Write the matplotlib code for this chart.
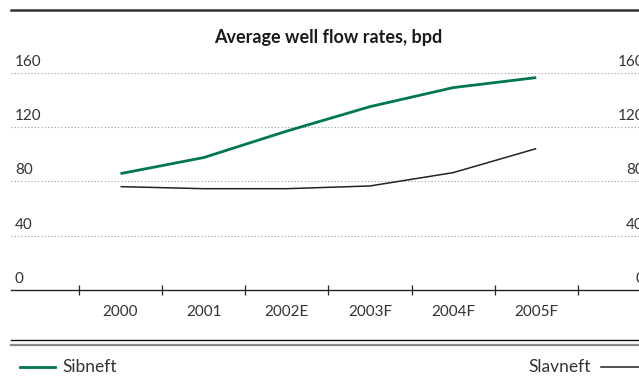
import numpy as np
import matplotlib.pyplot as plt
from matplotlib.lines import Line2D

plt.rcParams['font.family'] = ['Lato', 'DejaVu Sans']

years = ['2000', '2001', '2002E', '2003F', '2004F', '2005F']
sibneft = [85.7, 97.5, 117, 135, 149, 156.4]
slavneft = [76.1, 74.6, 74.6, 76.6, 86.4, 104.1]
y_ticks = [0, 40, 80, 120, 160]

W, H = 639, 386
fig = plt.figure(figsize=(W / 100, H / 100), dpi=100)

# plot area: y=0 at 290px, y=160 at 72.7px
left, right = 11 / W, 1.0
bottom, top = 1 - 290 / H, 1 - 72.7 / H
ax = fig.add_axes([left, bottom, right - left, top - bottom])

x = np.arange(len(years))
ax.plot(x, sibneft, color='#00784a', lw=2.0, solid_capstyle='butt')
ax.plot(x, slavneft, color='#222222', lw=1.1, solid_capstyle='butt')

ax.set_xlim(-1.317, 6.236)
ax.set_ylim(0, 160)

for s in ['top', 'left', 'right']:
    ax.spines[s].set_visible(False)
ax.spines['bottom'].set_color('#222222')
ax.spines['bottom'].set_linewidth(1.0)

ax.set_yticks(y_ticks)
ax.yaxis.grid(True, linestyle=(0, (1, 2)), color='#999999', lw=0.8)
ax.tick_params(axis='y', length=0, labelleft=False)
# labels sit above the gridlines, on both sides (right ones run off the edge)
for v in y_ticks:
    ax.text(0.006, v + 3, str(v), transform=ax.get_yaxis_transform(),
            ha='left', va='bottom', fontsize=11, color='#333333')
    ax.text(1.008, v + 3, str(v), transform=ax.get_yaxis_transform(),
            ha='right', va='bottom', fontsize=11, color='#333333')

ax.set_xticks(np.arange(-0.5, len(years) + 0.5, 1.0))
ax.set_xticks(x, minor=True)
ax.set_xticklabels([])
ax.set_xticklabels(years, minor=True)
ax.tick_params(axis='x', which='major', direction='inout', length=7,
               width=0.9, color='#222222')
ax.tick_params(axis='x', which='minor', length=0, pad=11,
               labelsize=11, labelcolor='#333333')
ax.set_axisbelow(True)

fig.text(328 / W, 1 - 38 / H, 'Average well flow rates, bpd', ha='center',
         va='center', fontsize=13, fontweight='bold', color='#1a1a1a')

# rules
fig.add_artist(Line2D([11 / W, 1], [1 - 10 / H] * 2, color='#333333', lw=1.8))
fig.add_artist(Line2D([11 / W, 1], [1 - 340 / H] * 2, color='#111111', lw=1.0))
fig.add_artist(Line2D([11 / W, 1], [1 - 344.5 / H] * 2, color='#888888', lw=1.6))

# legend
fig.add_artist(Line2D([20 / W, 55 / W], [1 - 367 / H] * 2, color='#00784a', lw=2.0))
fig.text(62 / W, 1 - 367 / H, 'Sibneft', ha='left', va='center',
         fontsize=12.5, color='#333333')
fig.add_artist(Line2D([601 / W, 1], [1 - 367 / H] * 2, color='#222222', lw=1.1))
fig.text(591 / W, 1 - 367 / H, 'Slavneft', ha='right', va='center',
         fontsize=12.5, color='#333333')

fig.savefig('out.png', dpi=100)
